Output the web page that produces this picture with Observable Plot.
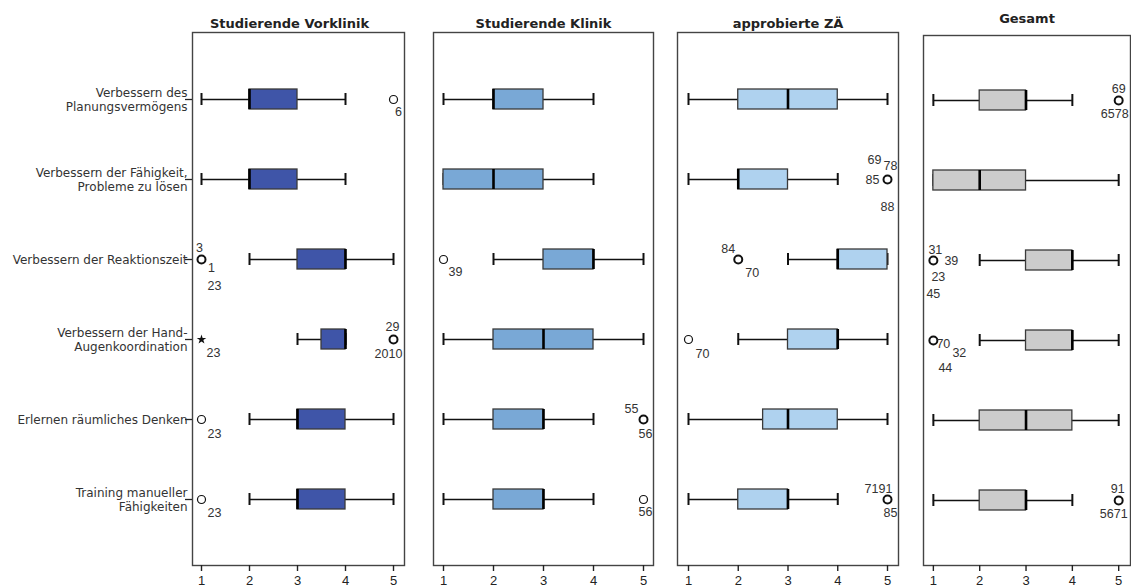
<!DOCTYPE html>
<html><head><meta charset="utf-8">
<script src="https://cdn.jsdelivr.net/npm/d3@7"></script>
<script src="https://cdn.jsdelivr.net/npm/@observablehq/plot@0.6"></script>
<style>
html,body{margin:0;padding:0;background:#fff;overflow:hidden;}
#chart{position:relative;width:1131px;height:588px;overflow:hidden;}
#chart svg{position:absolute;top:0;overflow:visible;background:transparent;}
</style></head><body><div id="chart"></div>
<script>
const categories = [
  "Verbessern des\nPlanungsvermögens",
  "Verbessern der Fähigkeit,\nProbleme zu lösen",
  "Verbessern der Reaktionszeit",
  "Verbessern der Hand-\nAugenkoordination",
  "Erlernen räumliches Denken",
  "Training manueller\nFähigkeiten"
];
const groups = ["Studierende Vorklinik", "Studierende Klinik", "approbierte ZÄ", "Gesamt"];
const fills = ["#3f55a8", "#79a8d6", "#afd2ef", "#cccccc"];
const xTicks = [1, 2, 3, 4, 5];

// five-number summaries per category: [lower whisker, Q1, median, Q3, upper whisker]
const vorklinik  = [[1,2,2,3,4],[1,2,2,3,4],[2,3,4,4,5],[3,3.5,4,4,4],[2,3,3,4,5],[2,3,3,4,5]];
const klinik     = [[1,2,2,3,4],[1,1,2,3,4],[2,3,4,4,5],[1,2,3,4,5],[1,2,3,3,4],[1,2,3,3,4]];
const approbiert = [[1,2,3,4,5],[1,2,2,3,4],[3,4,4,5,5],[2,3,4,4,5],[1,2.5,3,4,5],[1,2,3,3,4]];
const gesamt     = [[1,2,3,3,4],[1,1,2,3,5],[2,3,4,4,5],[2,3,4,4,5],[1,2,3,4,5],[1,2,3,3,4]];

// outliers: [category index, value, marker ("o" = outlier, "*" = extreme)]
const outVorklinik  = [[0,5,"o"],[2,1,"o"],[3,1,"*"],[3,5,"o"],[4,1,"o"],[5,1,"o"]];
const outKlinik     = [[2,1,"o"],[4,5,"o"],[5,5,"o"]];
const outApprobiert = [[1,5,"o"],[2,2,"o"],[3,1,"o"],[5,5,"o"]];
const outGesamt     = [[0,5,"o"],[2,1,"o"],[3,1,"o"],[5,5,"o"]];

// case numbers of outliers: [category index, value, case id]
const idsVorklinik  = [[0,5,"6"],[2,1,"3"],[2,1,"1"],[2,1,"23"],[3,1,"23"],[3,5,"29"],[3,5,"2010"],[4,1,"23"],[5,1,"23"]];
const idsKlinik     = [[2,1,"39"],[4,5,"55"],[4,5,"56"],[5,5,"56"]];
const idsApprobiert = [[1,5,"69"],[1,5,"78"],[1,5,"85"],[1,5,"88"],[2,2,"84"],[2,2,"70"],[3,1,"70"],[5,5,"7191"],[5,5,"85"]];
const idsGesamt     = [[0,5,"69"],[0,5,"6578"],[2,1,"31"],[2,1,"39"],[2,1,"23"],[2,1,"45"],[3,1,"70"],[3,1,"32"],[3,1,"44"],[5,5,"91"],[5,5,"5671"]];

// label nudges (dx, dy in px), same order as the case-id lists
const nudgeVorklinik  = [[5,12],[-2,-12],[10,8],[13,26],[12,13],[-1,-13],[-5,14],[13,14],[13,13]];
const nudgeKlinik     = [[12,12],[-12,-11],[2,14],[2,12]];
const nudgeApprobiert = [[-13,-20],[3,-14],[-15,0],[0,27],[-10,-11],[14,13],[14,14],[-9,-11],[3,13]];
const nudgeGesamt     = [[0,-12],[-4,13],[2,-11],[18,0],[5,16],[0,33],[10,3],[26,12],[12,27],[-1,-12],[-5,13]];

const stats = [vorklinik, klinik, approbiert, gesamt];
const outs = [outVorklinik, outKlinik, outApprobiert, outGesamt];
const ids = [idsVorklinik, idsKlinik, idsApprobiert, idsGesamt];
const nudges = [nudgeVorklinik, nudgeKlinik, nudgeApprobiert, nudgeGesamt];

// panel geometry (layout only)
const panels = [
  {left: 0,   width: 410, ml: 192, mr: 6, mt: 32, dom: [0.8125, 5.229], po: 0.70625, tdx: -9, tdy: -14},
  {left: 412, width: 248, ml: 21,  mr: 7, mt: 32, dom: [0.8, 5.2],      po: 0.70625, tdx: 0,  tdy: -14},
  {left: 660, width: 245, ml: 17,  mr: 7, mt: 32, dom: [0.779, 5.221],  po: 0.70625, tdx: 0,  tdy: -14},
  {left: 905, width: 230, ml: 18,  mr: 5, mt: 35, dom: [0.787, 5.255],  po: 0.6875,  tdx: 0,  tdy: -22}
];

const chart = document.getElementById("chart");
panels.forEach((p, gi) => {
  const rows = stats[gi].map((s, i) => ({cat: categories[i], lo: s[0], q1: s[1], med: s[2], q3: s[3], hi: s[4]}));
  const counts = d3.rollup(ids[gi], v => v.length, d => d[0] + ":" + d[1]);
  const o = outs[gi].map(([i, v, m]) => ({cat: categories[i], v, m, n: counts.get(i + ":" + v) || 1}));
  const circles = o.filter(d => d.m === "o");
  const stars = o.filter(d => d.m === "*");
  const labelMarks = ids[gi].map(([i, v, t], k) => Plot.text([{cat: categories[i], v, t}], {
    x: "v", y: "cat", text: "t", dx: nudges[gi][k][0], dy: nudges[gi][k][1],
    fontSize: 12.5, fill: "#333", fontFamily: "Liberation Sans, Arial, sans-serif"
  }));
  const marks = [
    Plot.frame({stroke: "#444", strokeWidth: 1.4}),
    Plot.axisX({ticks: xTicks, tickSize: 6, tickPadding: 4, fontSize: 13, label: null, tickFormat: d => d, stroke: "#222", strokeWidth: 1.4, fill: "#222"}),
    Plot.ruleY(rows, {y: "cat", x1: "lo", x2: "hi", stroke: "#111", strokeWidth: 1.6}),
    Plot.tickX(rows, {x: "lo", y: "cat", insetTop: 4, insetBottom: 4, stroke: "#111", strokeWidth: 2}),
    Plot.tickX(rows, {x: "hi", y: "cat", insetTop: 4, insetBottom: 4, stroke: "#111", strokeWidth: 2}),
    Plot.barX(rows, {y: "cat", x1: "q1", x2: "q3", fill: fills[gi], stroke: "#3a3a3a", strokeWidth: 1.3}),
    Plot.tickX(rows, {x: "med", y: "cat", stroke: "#000", strokeWidth: 2.6}),
    Plot.dot(circles, {x: "v", y: "cat", r: 4, fill: "white", stroke: "#111", strokeWidth: d => d.n > 1 ? 2 : 1.2}),
    Plot.dot(stars, {x: "v", y: "cat", r: 3, symbol: "star", fill: "#111"}),
    ...labelMarks,
    Plot.text([groups[gi]], {frameAnchor: "top", dx: p.tdx, dy: p.tdy, text: d => d, fontWeight: "bold", fontSize: 13, fill: "#222", fontFamily: "DejaVu Sans, sans-serif"})
  ];
  if (gi === 0) {
    marks.push(Plot.axisY({tickSize: 7, tickPadding: -2, fontSize: 12, lineHeight: 1.15, label: null, fontFamily: "DejaVu Sans, sans-serif", fill: "#333", stroke: "#222", strokeWidth: 1.3}));
  }
  const svg = Plot.plot({
    width: p.width, height: 588,
    marginLeft: p.ml, marginRight: p.mr, marginTop: p.mt, marginBottom: 23,
    style: {fontFamily: "Liberation Sans, Arial, sans-serif", background: "transparent", overflow: "visible"},
    x: {domain: p.dom, ticks: xTicks, axis: null},
    y: {type: "band", domain: categories, paddingInner: 0.75, paddingOuter: p.po, align: 0.5, axis: null},
    marks
  });
  svg.style.left = p.left + "px";
  chart.appendChild(svg);
});
</script></body></html>
